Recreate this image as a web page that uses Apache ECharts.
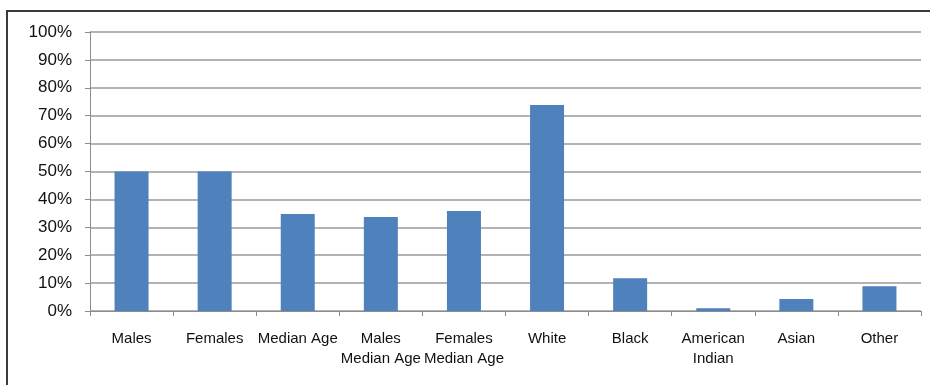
<!DOCTYPE html>
<html>
<head>
<meta charset="utf-8">
<script src="https://cdn.jsdelivr.net/npm/echarts@6/dist/echarts.min.js"></script>
<style>
html,body{margin:0;padding:0;background:#fff;}
#chart{width:930px;height:385px;}
</style>
</head>
<body>
<div id="chart"></div>
<script>
var categories = ["Males", "Females", "Median Age", "Males\nMedian Age", "Females\nMedian Age", "White", "Black", "American\nIndian", "Asian", "Other"];
var values = [50.0, 50.0, 34.8, 33.7, 35.8, 73.8, 11.7, 1.0, 4.3, 8.9];
var yTicks = [0, 10, 20, 30, 40, 50, 60, 70, 80, 90, 100];

var chart = echarts.init(document.getElementById('chart'), null, {renderer: 'canvas'});
chart.setOption({
  animation: false,
  backgroundColor: '#ffffff',
  graphic: [{
    type: 'rect',
    shape: {x: 7, y: 11, width: 1000, height: 500},
    style: {fill: 'none', stroke: '#3a3a3a', lineWidth: 2},
    silent: true,
    z: 100
  }],
  grid: {left: 90, right: 9, top: 32, bottom: 74, containLabel: false},
  xAxis: {
    type: 'category',
    data: categories,
    axisLine: {show: true, lineStyle: {color: '#8c8c8c', width: 1}},
    axisTick: {show: true, length: 5, lineStyle: {color: '#8c8c8c'}},
    axisLabel: {
      interval: 0,
      margin: 18,
      color: '#111',
      fontFamily: 'Liberation Sans',
      fontSize: 15,
      lineHeight: 20
    }
  },
  yAxis: {
    type: 'value',
    min: 0,
    max: yTicks[yTicks.length - 1],
    interval: yTicks[1] - yTicks[0],
    axisLine: {show: true, lineStyle: {color: '#8c8c8c', width: 1}},
    axisTick: {show: true, length: 5, lineStyle: {color: '#8c8c8c'}},
    splitLine: {show: true, lineStyle: {color: '#9a9a9a', width: 1.5}},
    axisLabel: {
      margin: 18,
      color: '#111',
      fontFamily: 'Liberation Sans',
      fontSize: 17,
      formatter: function (v) { return v + '%'; }
    }
  },
  series: [{
    type: 'bar',
    data: values,
    barWidth: 34,
    itemStyle: {color: '#4f81bd'}
  }]
});
</script>
</body>
</html>
